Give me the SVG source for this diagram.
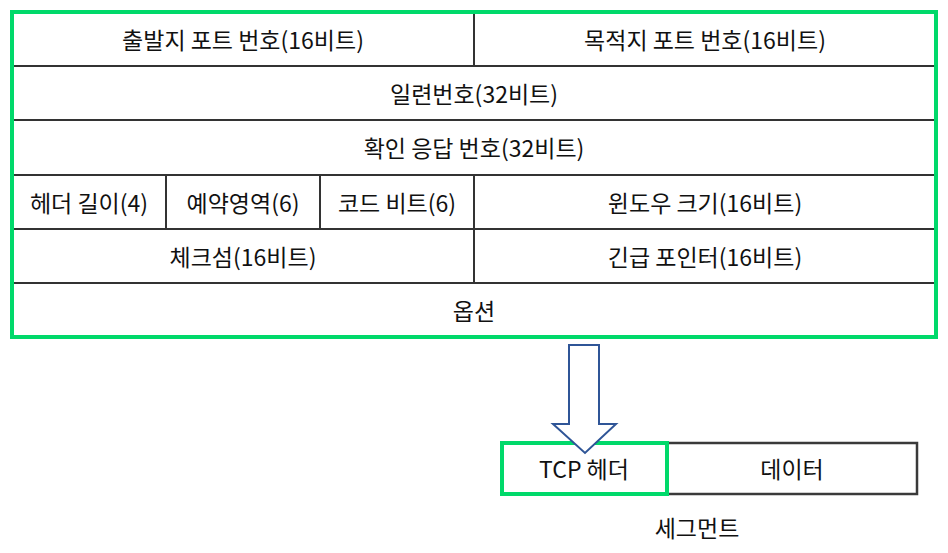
<svg xmlns="http://www.w3.org/2000/svg" width="948" height="553" viewBox="0 0 948 553">
<style>
.t{font-family:"Noto Sans CJK KR","Noto Sans",sans-serif;font-size:23px;fill:#111;text-anchor:middle;dominant-baseline:central}
.ln{stroke:#333;stroke-width:2;fill:none}
.g{stroke:#00D96A;stroke-width:4;fill:none}
</style>
<rect width="948" height="553" fill="#fff"/>
<g id="connectors">
<path class="ln" d="M12 66H936M12 120H936M12 175H936M12 229H936M12 283H936"/>
<path class="ln" d="M474 12V66M474 175V283M166 175V229M320 175V229"/>
</g>
<g id="src"><text class="t" x="243" y="39">출발지 포트 번호(16비트)</text></g>
<g id="dst"><text class="t" x="705" y="39">목적지 포트 번호(16비트)</text></g>
<g id="seq"><text class="t" x="474" y="93">일련번호(32비트)</text></g>
<g id="ack"><text class="t" x="474" y="147">확인 응답 번호(32비트)</text></g>
<g id="hlen"><text class="t" x="89" y="202">헤더 길이(4)</text></g>
<g id="rsv"><text class="t" x="243" y="202">예약영역(6)</text></g>
<g id="code"><text class="t" x="397" y="202">코드 비트(6)</text></g>
<g id="win"><text class="t" x="705" y="202">윈도우 크기(16비트)</text></g>
<g id="chk"><text class="t" x="243" y="256">체크섬(16비트)</text></g>
<g id="urg"><text class="t" x="705" y="256">긴급 포인터(16비트)</text></g>
<g id="opt"><text class="t" x="474" y="310">옵션</text></g>
<g id="header"><rect class="g" x="12" y="12" width="924" height="325"/></g>
<g id="data"><rect x="667" y="443" width="250" height="51" fill="#fff" stroke="#3a3a3a" stroke-width="2.5"/><text class="t" x="792" y="468">데이터</text></g>
<g id="tcph"><rect class="g" x="502" y="443" width="165" height="51"/><text class="t" x="584" y="468">TCP 헤더</text></g>
<g id="arrow"><polygon points="569,345 599,345 599,424 616,424 585,453 553,424 569,424" fill="#fff" stroke="#2F5597" stroke-width="2"/></g>
<g id="seg"><text class="t" x="697" y="527">세그먼트</text></g>
</svg>
